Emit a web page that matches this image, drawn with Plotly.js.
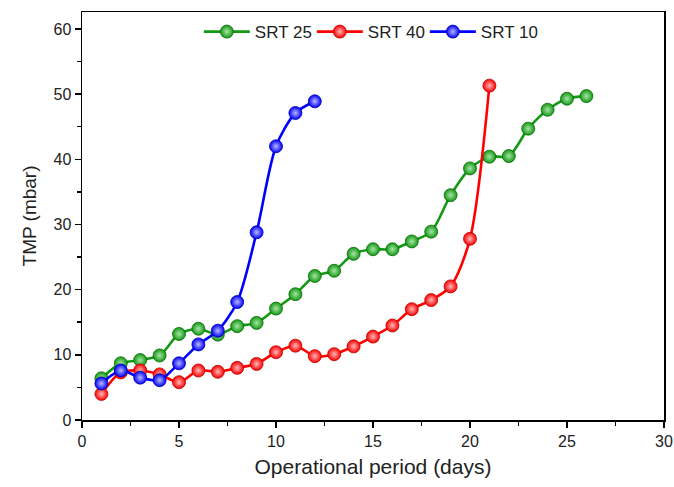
<!DOCTYPE html>
<html><head><meta charset="utf-8">
<script src="https://cdn.plot.ly/plotly-3.0.1.min.js"></script>
<style>html,body{margin:0;padding:0;background:#fff}#c{width:674px;height:487px}</style>
</head><body><div id="c"></div>
<script>
const days25 = [1,2,3,4,5,6,7,8,9,10,11,12,13,14,15,16,17,18,19,20,21,22,23,24,25,26];
const srt25 = [6.4,8.7,9.2,9.9,13.2,14.0,13.1,14.4,14.9,17.1,19.3,22.1,22.9,25.5,26.2,26.2,27.4,28.9,34.5,38.6,40.4,40.5,44.7,47.6,49.3,49.7];
const days40 = [1,2,3,4,5,6,7,8,9,10,11,12,13,14,15,16,17,18,19,20,21];
const srt40 = [4.0,7.3,7.6,7.0,5.8,7.6,7.4,8.0,8.6,10.4,11.4,9.8,10.1,11.3,12.8,14.5,17.0,18.4,20.5,27.8,51.3];
const days10 = [1,2,3,4,5,6,7,8,9,10,11,12];
const srt10 = [5.6,7.6,6.5,6.1,8.7,11.6,13.7,18.1,28.8,42.0,47.1,48.9];
const names = ['SRT 25','SRT 40','SRT 10'];
const xTitle = 'Operational period (days)';
const yTitle = 'TMP (mbar)';
const FONT = 'Liberation Sans, Arial, sans-serif';

function tr(x, y, name, col, edge, hi){
  return {x:x, y:y, name:name, type:'scatter', mode:'lines+markers',
    line:{color:col, width:2.6, shape:'spline', smoothing:0.8},
    marker:{size:13, color:col, line:{color:edge, width:0.8},
      gradient:{type:'radial', color:hi}}};
}
const data = [
  tr(days25, srt25, names[0], '#129a12', '#0a6a0a', '#a8e4a8'),
  tr(days40, srt40, names[1], '#ff0000', '#c00000', '#ffb8b8'),
  tr(days10, srt10, names[2], '#0000ff', '#0000b0', '#b8b8ff')
];
const axBase = {showline:true, linecolor:'#000', linewidth:1.5, mirror:true,
  ticks:'outside', ticklen:6, tickwidth:1.5, tickcolor:'#000', showgrid:false, zeroline:false,
  tickfont:{family:FONT, size:16, color:'#222'}};
const layout = {
  width:674, height:487, margin:{l:82, r:10, t:12, b:67},
  paper_bgcolor:'#fff', plot_bgcolor:'#fff', showlegend:true,
  xaxis:Object.assign({}, axBase, {range:[0,30], dtick:5, tick0:0,
    minor:{dtick:2.5, ticks:'outside', ticklen:4, tickwidth:1.5, tickcolor:'#000'},
    title:{text:xTitle, standoff:10, font:{family:FONT, size:21, color:'#222'}}}),
  yaxis:Object.assign({}, axBase, {range:[0,62.6], dtick:10, tick0:0,
    minor:{dtick:5, ticks:'outside', ticklen:4, tickwidth:1.5, tickcolor:'#000'},
    title:{text:yTitle, standoff:12, font:{family:FONT, size:19, color:'#222'}}}),
  legend:{orientation:'h', x:0.492, xanchor:'center', y:0.995, yanchor:'top',
    bgcolor:'rgba(0,0,0,0)', itemwidth:46, tracegroupgap:0,
    entrywidth:52, entrywidthmode:'pixels',
    font:{family:FONT, size:17, color:'#222'}}
};
Plotly.newPlot('c', data, layout, {displayModeBar:false, staticPlot:true});
</script></body></html>
